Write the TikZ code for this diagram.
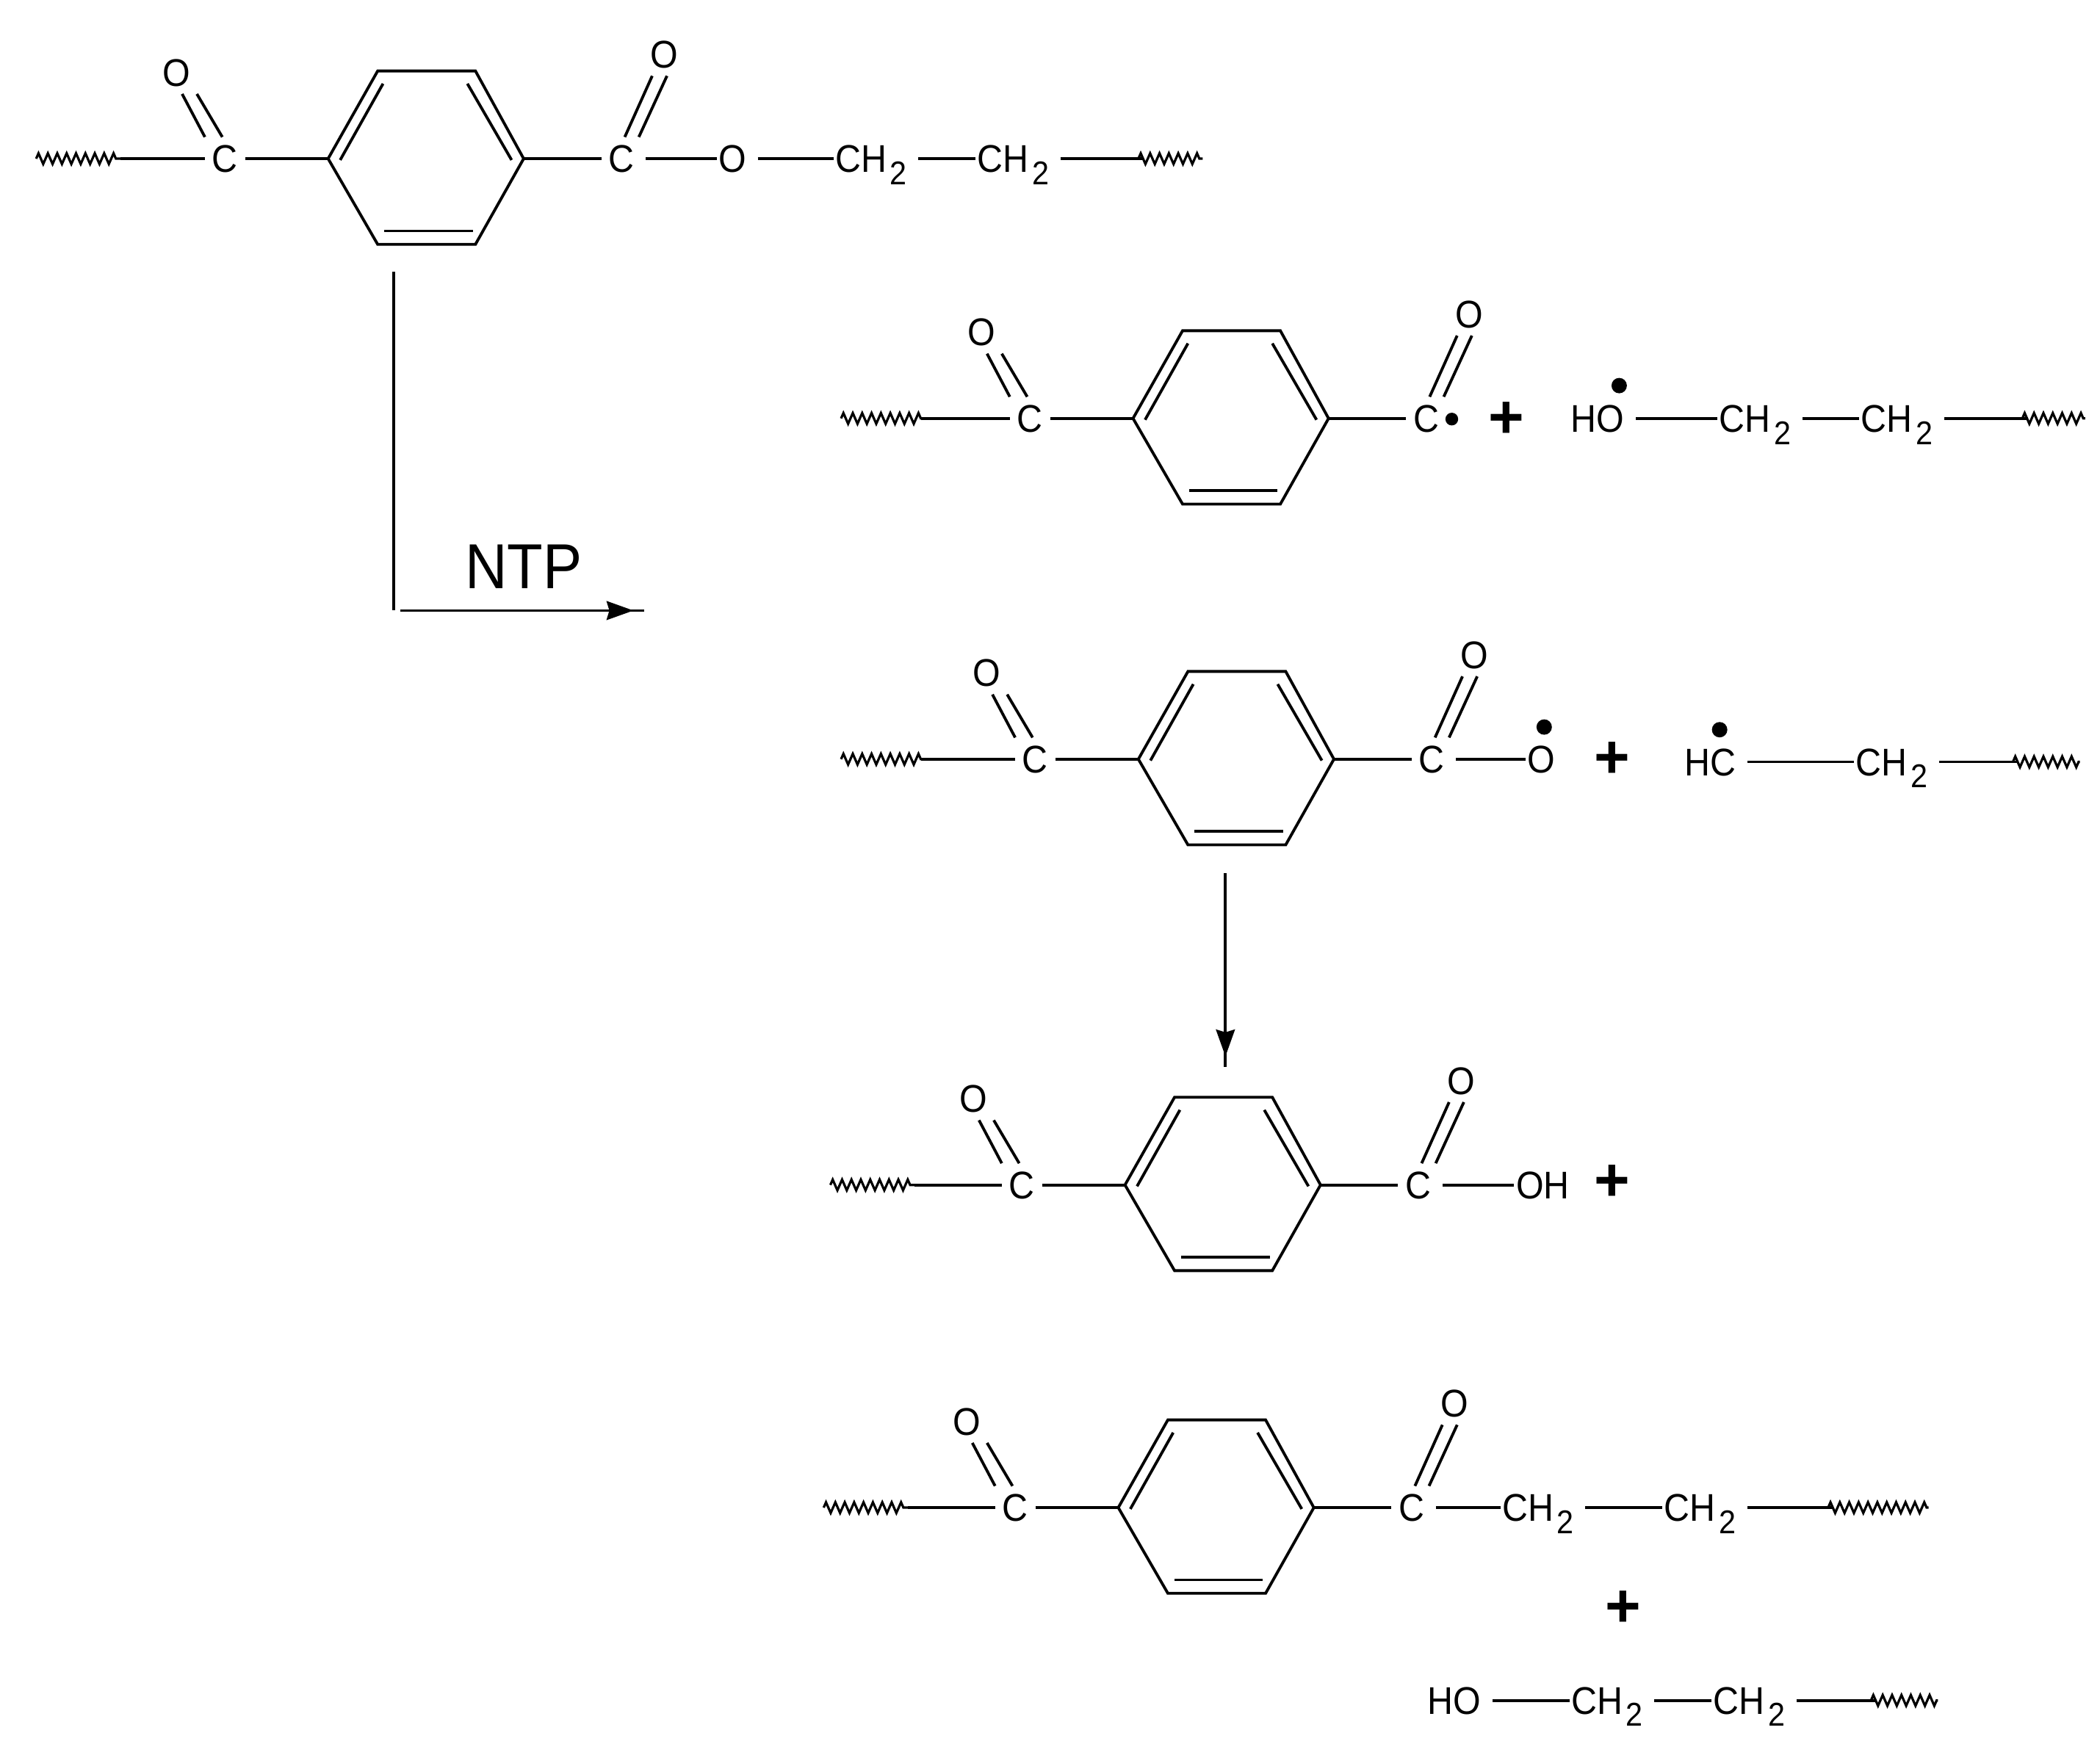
\documentclass[tikz,border=0pt]{standalone}
\usepackage{fontspec}
\setmainfont{Liberation Sans}
\usepackage{tikz}
\usetikzlibrary{decorations.pathmorphing}
\usetikzlibrary{arrows.meta}

\newcommand{\chtwo}{CH\kern.8pt\raisebox{-0.6ex}{\fontsize{7}{7}\selectfont 2}}

\tikzset{
  atom/.style={font=\fontsize{8.2}{9}\selectfont, xscale=.92, inner sep=1.5pt, text height=5.8pt, text depth=0pt},
  bond/.style={line width=.6pt},
  chain/.style={bond, shorten <=.03cm, shorten >=-.04cm},
  wavy/.style={line width=.5pt, decorate, decoration={zigzag, segment length=.07cm, amplitude=.04cm}},
  radical/.style={circle, fill, inner sep=0pt, minimum size=.115cm},
  plus/.style={font=\fontsize{13}{14}\selectfont\bfseries, inner sep=0pt},
  flow/.style={line width=.6pt, -{Stealth[length=.2cm, width=.14cm, inset=.02cm]}},
}

\begin{document}
\begin{tikzpicture}[x=0.01cm, y=-0.01cm]
\useasboundingbox (0,0) rectangle (1568,1302.5);

% the repeated units: wave, C, ring, C and both O
\foreach \name/\x/\y/\wl/\wr in {a/168/118.5/-141/-78, b/769/312.5/-141/-81, c/773/567/-145/-85, d/763/885/-143/-80, e/758/1126/-143/-80}{
\begin{scope}[shift={(\x,\y)}]
\node[atom] (\name cl) at (0,0) {C};
\node[atom] (\name ol) at (-36,-64.5) {O};
\node[atom] (\name cr) at (296,0) {C};
\node[atom] (\name or) at (328,-78) {O};
\coordinate (\name wa) at (\wl,0);
\coordinate (\name wb) at (\wr,0);
\coordinate (\name r1) at (77,0);
\coordinate (\name r2) at (114,-65.5);
\coordinate (\name r3) at (187,-65.5);
\coordinate (\name r4) at (223,0);
\coordinate (\name r5) at (187,64);
\coordinate (\name r6) at (114,64);
\draw[bond] (\name r1) -- (\name r2) -- (\name r3) -- (\name r4) -- (\name r5) -- (\name r6) -- cycle;
\draw[bond] (86,1) -- (118,-56);
\draw[bond] (181,-56) -- (214,1);
\draw[bond] (119,54) -- (185,54);
\draw[wavy] (\name wa) -- (\name wb);
\draw[bond] (\name wb) -- (\name cl);
\draw[bond] (\name cl) -- (\name r1);
\draw[bond] (\name r4) -- (\name cr);
\draw[bond] ([xshift=-.15cm]\name cl.north) -- ([xshift=.04cm]\name ol.south);
\draw[bond] ([xshift=-.02cm]\name cl.north) -- ([xshift=.15cm]\name ol.south);
\draw[bond] ([xshift=.025cm]\name cr.north) -- ([xshift=-.09cm]\name or.south);
\draw[bond] ([xshift=.13cm]\name cr.north) -- ([xshift=.02cm]\name or.south);
\end{scope}
}

% top chain
\node[atom] (ao) at (547,118.5) {O};
\node[atom] (ach1) at (650.5,118.5) {\chtwo};
\node[atom] (ach2) at (756.5,118.5) {\chtwo};
\coordinate (awc) at (850,118.5);
\coordinate (awd) at (898,118.5);
\draw[chain] (acr) -- (ao);
\draw[chain] (ao) -- (ach1);
\draw[chain] (ach1) -- (ach2);
\draw[chain] (ach2) -- (awc);
\draw[wavy] (awc) -- (awd);

% NTP step
\coordinate (ntpa) at (294,203);
\coordinate (ntpb) at (294,456);
\coordinate (ntpc) at (299,456);
\coordinate (ntpe) at (473,456);
\coordinate (ntpf) at (465,456);
\coordinate (ntpd) at (481,456);
\node[font=\fontsize{13.5}{14}\selectfont, xscale=.92, inner sep=0pt] (ntp) at (391,423) {NTP};
\draw[bond] (ntpa) -- (ntpb);
\draw[flow] (ntpc) -- (ntpe);
\draw[bond] (ntpf) -- (ntpd);

% second row
\node[radical, minimum size=.095cm] (bdot) at (1084,313) {};
\node[plus] (bplus) at (1125,313.5) {+};
\node[atom] (bho) at (1193,312.5) {HO};
\node[radical] (bhodot) at (1209,288) {};
\node[atom] (bch1) at (1310.5,312.5) {\chtwo};
\node[atom] (bch2) at (1416.5,312.5) {\chtwo};
\coordinate (bwc) at (1510,312.5);
\coordinate (bwd) at (1557,312.5);
\draw[chain] (bho) -- (bch1);
\draw[chain] (bch1) -- (bch2);
\draw[chain] (bch2) -- (bwc);
\draw[wavy] (bwc) -- (bwd);

% third row
\node[atom] (co) at (1151,567) {O};
\node[radical] (codot) at (1153,543) {};
\node[plus] (cplus) at (1204,567.5) {+};
\node[atom] (chc) at (1277,569) {HC};
\node[radical] (chcdot) at (1284,545) {};
\node[atom] (cch) at (1412.5,569) {\chtwo};
\coordinate (cwc) at (1503,569);
\coordinate (cwd) at (1553,569);
\draw[chain] (ccr) -- (co);
\draw[chain] (chc) -- (cch);
\draw[chain] (cch) -- (cwc);
\draw[wavy] (cwc) -- (cwd);

% arrow down
\coordinate (cda) at (915,652);
\coordinate (cde) at (915,789);
\coordinate (cdf) at (915,781);
\coordinate (cdb) at (915,797);
\draw[flow] (cda) -- (cde);
\draw[bond] (cdf) -- (cdb);

% fourth row
\node[atom] (doh) at (1152,885) {OH};
\node[plus] (dplus) at (1204,883.5) {+};
\draw[chain] (dcr) -- (doh);

% fifth row
\node[atom] (ech1) at (1148.5,1126) {\chtwo};
\node[atom] (ech2) at (1269.5,1126) {\chtwo};
\coordinate (ewc) at (1365,1126);
\coordinate (ewd) at (1440,1126);
\draw[chain] (ecr) -- (ech1);
\draw[chain] (ech1) -- (ech2);
\draw[chain] (ech2) -- (ewc);
\draw[wavy] (ewc) -- (ewd);
\node[plus] (eplus) at (1212,1201.5) {+};

% last chain
\node[atom] (fho) at (1086,1270) {HO};
\node[atom] (fch1) at (1200,1270) {\chtwo};
\node[atom] (fch2) at (1306,1270) {\chtwo};
\coordinate (fwc) at (1397,1270);
\coordinate (fwd) at (1447,1270);
\draw[chain] (fho) -- (fch1);
\draw[chain] (fch1) -- (fch2);
\draw[chain] (fch2) -- (fwc);
\draw[wavy] (fwc) -- (fwd);
\end{tikzpicture}
\end{document}
